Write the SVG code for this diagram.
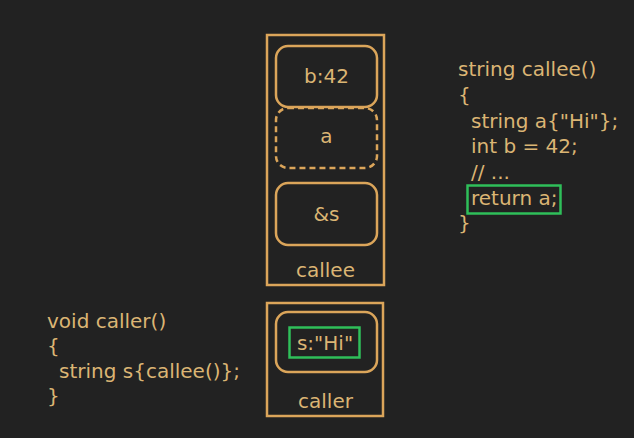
<svg xmlns="http://www.w3.org/2000/svg" width="634" height="438" viewBox="0 0 634 438">
<style>
text{font-family:"DejaVu Sans","Liberation Sans",sans-serif;font-size:20px;fill:#dbb574}
.c{text-anchor:middle}
.frame{fill:none;stroke:#dba55a;stroke-width:2.5}
.slot{fill:none;stroke:#dba55a;stroke-width:2.5}
.dash{fill:none;stroke:#dba55a;stroke-width:2.5;stroke-dasharray:6 4}
.hl{fill:none;stroke:#2fbf5a;stroke-width:2.5}
</style>
<rect width="634" height="438" fill="#222222"/>
<g id="callee-frame">
<rect class="frame" x="267" y="35" width="117" height="250"/>
<text class="c" x="325.5" y="277">callee</text>
</g>
<g id="slot-b">
<rect class="slot" x="276" y="46" width="101" height="61" rx="12"/>
<text class="c" x="326.5" y="83">b:42</text>
</g>
<g id="slot-a">
<rect class="dash" x="276" y="108" width="101" height="60" rx="12"/>
<text class="c" x="326.5" y="143">a</text>
</g>
<g id="slot-s-ref">
<rect class="slot" x="276" y="183" width="101" height="62" rx="12"/>
<text class="c" x="326.5" y="221">&amp;s</text>
</g>
<g id="caller-frame">
<rect class="frame" x="267" y="303" width="116" height="113"/>
<text class="c" x="325.5" y="408">caller</text>
</g>
<g id="slot-s">
<rect class="slot" x="276" y="312" width="101" height="60" rx="12"/>
<rect class="hl" x="289.5" y="327.5" width="70" height="30"/>
<text class="c" x="325" y="350">s:"Hi"</text>
</g>
<g id="callee-code">
<text x="458" y="76">string callee()</text>
<text x="458" y="102">{</text>
<text x="471" y="128">string a{"Hi"};</text>
<text x="471" y="153">int b = 42;</text>
<text x="471" y="179">// ...</text>
<rect class="hl" x="467.5" y="185.5" width="93" height="28"/>
<text x="471" y="205">return a;</text>
<text x="458" y="230">}</text>
</g>
<g id="caller-code">
<text x="47" y="328">void caller()</text>
<text x="47" y="353">{</text>
<text x="59" y="378">string s{callee()};</text>
<text x="47" y="403">}</text>
</g>
<g id="connectors"></g>
</svg>
